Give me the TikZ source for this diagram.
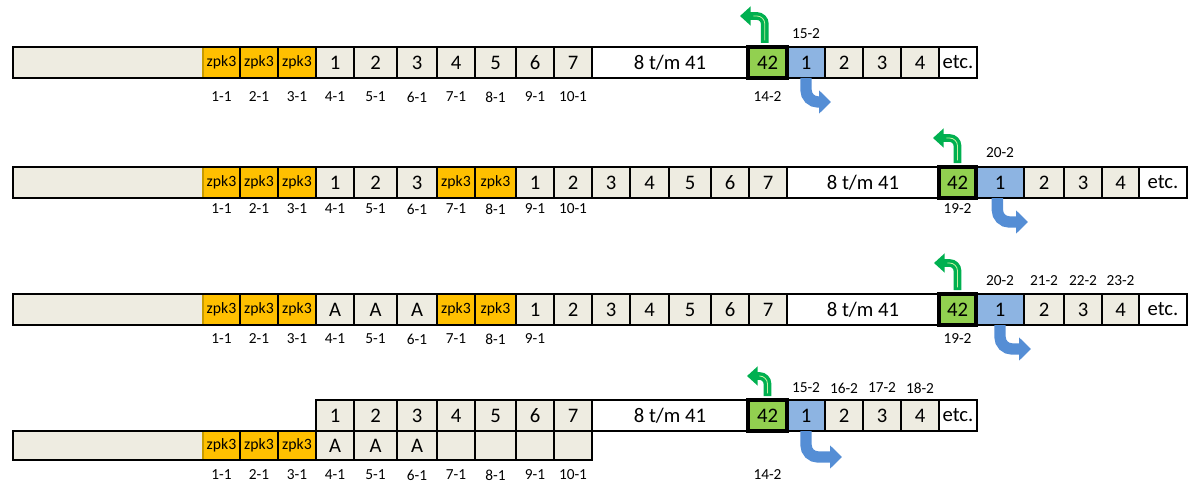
\documentclass[tikz,border=0pt]{standalone}
\usepackage{fontspec}
\setmainfont{Carlito}
\usetikzlibrary{arrows.meta}
\definecolor{tanc}{HTML}{EEECE1}
\definecolor{zpk}{HTML}{FFC000}
\definecolor{gcell}{HTML}{92D050}
\definecolor{bcell}{HTML}{8DB4E2}
\definecolor{garr}{HTML}{00B050}
\definecolor{barr}{HTML}{558ED5}
\definecolor{ghi}{HTML}{C6EFA0}
\definecolor{goldln}{HTML}{C89B00}
\tikzset{
 cellbase/.style={draw=black, line width=1.5pt, inner sep=0pt, outer sep=0pt, anchor=north west, font=\fontsize{15.5}{16}\selectfont},
 tancell/.style={cellbase, fill=tanc},
 zcell/.style={cellbase, fill=zpk, font=\fontsize{11.8}{12}\selectfont},
 wcell/.style={cellbase, fill=white},
 gcellst/.style={cellbase, fill=gcell, line width=2.5pt},
 bcellst/.style={cellbase, fill=bcell},
 lbl/.style={font=\fontsize{11.5}{12}\selectfont, inner sep=0pt},
 goldsep/.style={draw=goldln, line width=1.2pt},
 garrow/.style={draw=garr, line width=5.8pt, rounded corners=6pt, -{Triangle[width=14pt,length=8pt]}},
 ghl/.style={draw=ghi, line width=0.6pt, rounded corners=6pt},
 barrow/.style={draw=barr, line width=8.5pt, rounded corners=9pt, -{Triangle[width=17pt,length=9pt]}},
}
\newcommand\cb[7]{\node[#6, minimum width={(#3-#2)*0.75pt}, minimum height={(#5-#4)*0.75pt}] (#1) at (#2,#4) {#7};}
\begin{document}
\begin{tikzpicture}[x=0.75pt,y=-0.75pt]
\useasboundingbox (0,0) rectangle (1193,492);
% ---------------- Row 1 ----------------
\cb{r1a}{13}{203}{47}{78}{tancell}{}
\cb{r1z1}{203}{240}{47}{78}{zcell}{zpk3}
\cb{r1z2}{240}{278}{47}{78}{zcell}{zpk3}
\cb{r1z3}{278}{316}{47}{78}{zcell}{zpk3}
\cb{r1c1}{316}{354}{47}{78}{tancell}{1}
\cb{r1c2}{354}{397}{47}{78}{tancell}{2}
\cb{r1c3}{397}{437}{47}{78}{tancell}{3}
\cb{r1c4}{437}{475}{47}{78}{tancell}{4}
\cb{r1c5}{475}{516}{47}{78}{tancell}{5}
\cb{r1c6}{516}{554}{47}{78}{tancell}{6}
\cb{r1c7}{554}{592}{47}{78}{tancell}{7}
\cb{r1w}{592}{748}{47}{78}{wcell}{8 t/m 41}
\cb{r1b}{787}{825}{47}{78}{bcellst}{1}
\cb{r1d2}{825}{863}{47}{78}{tancell}{2}
\cb{r1d3}{863}{901}{47}{78}{tancell}{3}
\cb{r1d4}{901}{939}{47}{78}{tancell}{4}
\cb{r1e}{939}{977}{47}{78}{wcell}{etc.}
\cb{r1g}{748}{787}{47}{78}{gcellst}{42}
\draw[goldsep] ([yshift=-0.75pt]r1z1.north west) -- ([yshift=0.75pt]r1z1.south west);
\foreach \t/\x [count=\i] in {1-1/221.5,2-1/259,3-1/297,4-1/335,5-1/375.5,6-1/417,7-1/456,8-1/495.5,9-1/535,10-1/573}
  \node[lbl] (l1n\i) at (\x,97) {\t};
\node[lbl] (l1g) at (767.5,97) {14-2};
\node[lbl] (l1b) at (806,34) {15-2};
\coordinate (r1gt) at (740,16);
\coordinate (r1bt) at (831,102);
\draw[garrow] ([xshift=-2pt,yshift=3pt]r1g.north) |- (r1gt);
\draw[ghl] ([xshift=-2pt,yshift=5pt]r1g.north) |- ([xshift=10pt]r1gt);
\draw[barrow] (r1b.south) |- (r1bt);
% ---------------- Row 2 ----------------
\cb{r2a}{13}{203}{167}{198}{tancell}{}
\cb{r2z1}{203}{240}{167}{198}{zcell}{zpk3}
\cb{r2z2}{240}{278}{167}{198}{zcell}{zpk3}
\cb{r2z3}{278}{316}{167}{198}{zcell}{zpk3}
\cb{r2c1}{316}{354}{167}{198}{tancell}{1}
\cb{r2c2}{354}{397}{167}{198}{tancell}{2}
\cb{r2c3}{397}{437}{167}{198}{tancell}{3}
\cb{r2z4}{437}{475}{167}{198}{zcell}{zpk3}
\cb{r2z5}{475}{516}{167}{198}{zcell}{zpk3}
\cb{r2c4}{516}{554}{167}{198}{tancell}{1}
\cb{r2c5}{554}{592}{167}{198}{tancell}{2}
\cb{r2c6}{592}{630}{167}{198}{tancell}{3}
\cb{r2c7}{630}{669}{167}{198}{tancell}{4}
\cb{r2c8}{669}{711}{167}{198}{tancell}{5}
\cb{r2c9}{711}{749}{167}{198}{tancell}{6}
\cb{r2c10}{749}{787}{167}{198}{tancell}{7}
\cb{r2w}{787}{939}{167}{198}{wcell}{8 t/m 41}
\cb{r2b}{976}{1024}{167}{198}{bcellst}{1}
\cb{r2d2}{1024}{1064}{167}{198}{tancell}{2}
\cb{r2d3}{1064}{1102}{167}{198}{tancell}{3}
\cb{r2d4}{1102}{1139}{167}{198}{tancell}{4}
\cb{r2e}{1139}{1187}{167}{198}{wcell}{etc.}
\cb{r2g}{939}{976}{167}{198}{gcellst}{42}
\draw[goldsep] ([yshift=-0.75pt]r2z1.north west) -- ([yshift=0.75pt]r2z1.south west);
\foreach \t/\x [count=\i] in {1-1/221.5,2-1/259,3-1/297,4-1/335,5-1/375.5,6-1/417,7-1/456,8-1/495.5,9-1/535,10-1/573}
  \node[lbl] (l2n\i) at (\x,209) {\t};
\node[lbl] (l2g) at (957.5,209) {19-2};
\node[lbl] (l2b) at (1000,153) {20-2};
\coordinate (r2gt) at (933,138);
\coordinate (r2bt) at (1028,222);
\draw[garrow] ([yshift=3pt]r2g.north) |- (r2gt);
\draw[ghl] ([yshift=5pt]r2g.north) |- ([xshift=10pt]r2gt);
\draw[barrow] ([xshift=-2pt]r2b.south) |- (r2bt);
% ---------------- Row 3 ----------------
\cb{r3a}{13}{203}{294}{325}{tancell}{}
\cb{r3z1}{203}{240}{294}{325}{zcell}{zpk3}
\cb{r3z2}{240}{278}{294}{325}{zcell}{zpk3}
\cb{r3z3}{278}{316}{294}{325}{zcell}{zpk3}
\cb{r3c1}{316}{354}{294}{325}{tancell}{A}
\cb{r3c2}{354}{397}{294}{325}{tancell}{A}
\cb{r3c3}{397}{437}{294}{325}{tancell}{A}
\cb{r3z4}{437}{475}{294}{325}{zcell}{zpk3}
\cb{r3z5}{475}{516}{294}{325}{zcell}{zpk3}
\cb{r3c4}{516}{554}{294}{325}{tancell}{1}
\cb{r3c5}{554}{592}{294}{325}{tancell}{2}
\cb{r3c6}{592}{630}{294}{325}{tancell}{3}
\cb{r3c7}{630}{669}{294}{325}{tancell}{4}
\cb{r3c8}{669}{711}{294}{325}{tancell}{5}
\cb{r3c9}{711}{749}{294}{325}{tancell}{6}
\cb{r3c10}{749}{787}{294}{325}{tancell}{7}
\cb{r3w}{787}{939}{294}{325}{wcell}{8 t/m 41}
\cb{r3b}{976}{1024}{294}{325}{bcellst}{1}
\cb{r3d2}{1024}{1064}{294}{325}{tancell}{2}
\cb{r3d3}{1064}{1102}{294}{325}{tancell}{3}
\cb{r3d4}{1102}{1139}{294}{325}{tancell}{4}
\cb{r3e}{1139}{1187}{294}{325}{wcell}{etc.}
\cb{r3g}{939}{976}{294}{325}{gcellst}{42}
\draw[goldsep] ([yshift=-0.75pt]r3z1.north west) -- ([yshift=0.75pt]r3z1.south west);
\foreach \t/\x [count=\i] in {1-1/221.5,2-1/259,3-1/297,4-1/335,5-1/375.5,6-1/417,7-1/456,8-1/495.5,9-1/535}
  \node[lbl] (l3n\i) at (\x,339) {\t};
\node[lbl] (l3g) at (957.5,339) {19-2};
\foreach \t/\x [count=\i] in {20-2/1000,21-2/1044,22-2/1083,23-2/1120.5}
  \node[lbl] (l3u\i) at (\x,281) {\t};
\coordinate (r3gt) at (934,263);
\coordinate (r3bt) at (1031,349);
\draw[garrow] ([yshift=3pt]r3g.north) |- (r3gt);
\draw[ghl] ([yshift=5pt]r3g.north) |- ([xshift=10pt]r3gt);
\draw[barrow] (r3b.south) |- (r3bt);
% ---------------- Row 4 ----------------
\cb{r4c1}{316}{354}{400}{431}{tancell}{1}
\cb{r4c2}{354}{397}{400}{431}{tancell}{2}
\cb{r4c3}{397}{437}{400}{431}{tancell}{3}
\cb{r4c4}{437}{475}{400}{431}{tancell}{4}
\cb{r4c5}{475}{516}{400}{431}{tancell}{5}
\cb{r4c6}{516}{554}{400}{431}{tancell}{6}
\cb{r4c7}{554}{592}{400}{431}{tancell}{7}
\cb{r4w}{592}{748}{400}{431}{wcell}{8 t/m 41}
\cb{r4b}{787}{825}{400}{431}{bcellst}{1}
\cb{r4d2}{825}{863}{400}{431}{tancell}{2}
\cb{r4d3}{863}{901}{400}{431}{tancell}{3}
\cb{r4d4}{901}{939}{400}{431}{tancell}{4}
\cb{r4e}{939}{977}{400}{431}{wcell}{etc.}
\cb{r4g}{748}{787}{400}{431}{gcellst}{42}
\cb{r4a}{13}{203}{431}{460}{tancell}{}
\cb{r4z1}{203}{240}{431}{460}{zcell}{zpk3}
\cb{r4z2}{240}{278}{431}{460}{zcell}{zpk3}
\cb{r4z3}{278}{316}{431}{460}{zcell}{zpk3}
\cb{r4l1}{316}{354}{431}{460}{tancell}{A}
\cb{r4l2}{354}{397}{431}{460}{tancell}{A}
\cb{r4l3}{397}{437}{431}{460}{tancell}{A}
\cb{r4l4}{437}{475}{431}{460}{tancell}{}
\cb{r4l5}{475}{516}{431}{460}{tancell}{}
\cb{r4l6}{516}{554}{431}{460}{tancell}{}
\cb{r4l7}{554}{592}{431}{460}{tancell}{}
\draw[goldsep] ([yshift=-0.75pt]r4z1.north west) -- ([yshift=0.75pt]r4z1.south west);
\foreach \t/\x [count=\i] in {1-1/221.5,2-1/259,3-1/297,4-1/335,5-1/375.5,6-1/417,7-1/456,8-1/495.5,9-1/535,10-1/573}
  \node[lbl] (l4n\i) at (\x,475) {\t};
\node[lbl] (l4g) at (767.5,475) {14-2};
\foreach \t/\x [count=\i] in {15-2/806,16-2/844,17-2/882,18-2/920}
  \node[lbl] (l4u\i) at (\x,388) {\t};
\coordinate (r4gt) at (747,376);
\coordinate (r4bt) at (842,457);
\draw[garrow] ([yshift=3pt]r4g.north) |- (r4gt);
\draw[ghl] ([yshift=5pt]r4g.north) |- ([xshift=10pt]r4gt);
\draw[barrow] (r4b.south) |- (r4bt);
\end{tikzpicture}
\end{document}
